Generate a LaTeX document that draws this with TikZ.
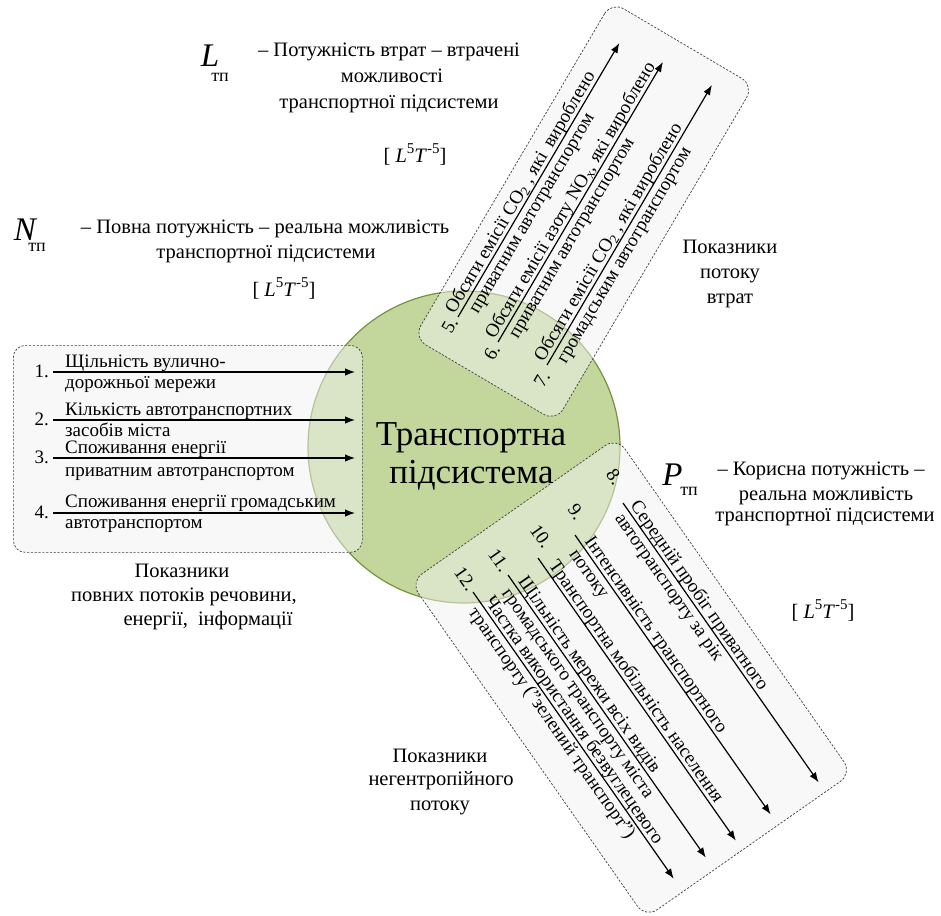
\documentclass[tikz,border=0pt]{standalone}
\usepackage{fontspec}
\IfFontExistsTF{LiberationSerif-Regular.ttf}{%
  \setmainfont{LiberationSerif}[Extension=.ttf, UprightFont=*-Regular, ItalicFont=*-Italic, BoldFont=*-Bold, BoldItalicFont=*-BoldItalic]}{%
  \setmainfont{Liberation Serif}}
\usetikzlibrary{arrows.meta}
\definecolor{circfill}{HTML}{C3D69B}
\definecolor{circdraw}{HTML}{76923C}
\definecolor{boxfill}{RGB}{242,242,242}
\newcommand{\myDimSup}[1]{\raisebox{0.42em}{\fontsize{15}{15}\selectfont #1}}
\newcommand{\myDimForm}{[\hspace{5pt}\textit{L}\myDimSup{5}\textit{T}\myDimSup{-5}]}
\begin{document}
\begin{tikzpicture}[x=1pt,y=1pt,
  box/.style={draw=black!75, line width=0.7pt, dash pattern=on 2.2pt off 1.6pt, fill=boxfill, fill opacity=0.51, rounded corners=14pt, inner sep=0pt},
  arr/.style={line width=1.2pt, -{Latex[length=10pt,width=7.5pt]}},
  itm/.style={font=\fontsize{19}{22}\selectfont, inner sep=0pt},
  lbl/.style={font=\fontsize{20.5}{25}\selectfont, inner sep=0pt, anchor=base},
  big/.style={font=\fontsize{33}{36}\selectfont\itshape, inner sep=0pt, anchor=base},
  subs/.style={font=\fontsize{18}{20}\selectfont, inner sep=0pt, anchor=base},
  ctr/.style={font=\fontsize{35}{38}\selectfont, inner sep=0pt, anchor=base},
]
\useasboundingbox (0,0) rectangle (941,-915);

% central circle
\node[circle, draw=circdraw, fill=circfill, line width=1.2pt, minimum size=312pt, inner sep=0pt] (sys) at (464,-447) {};

% boxes
\node[box, minimum width=390pt, minimum height=165pt, rotate=59.5] (lossbox) at (583.7,-211.6) {};
\node[box, minimum width=410pt, minimum height=252pt, rotate=-55] (negbox) at (631.2,-677.6) {};
\node[box, rounded corners=12pt, minimum width=349pt, minimum height=207pt, anchor=north west] (inbox) at (13,-345) {};

% centre text
\node[ctr] (ct1) at (471,-445) {Транспортна};
\node[ctr] (ct2) at (471.5,-483) {підсистема};

% left box items
\coordinate (s1) at (53,-372); \coordinate (e1) at (355,-372);
\draw[arr] (s1) -- (e1);
\node[itm, anchor=base east] (n1) at (49,-377) {1.};
\node[itm, anchor=base west] (t1a) at (65,-367) {Щільність вулично-};
\node[itm, anchor=base west] (t1b) at (65,-388) {дорожньої мережи};

\coordinate (s2) at (53,-420); \coordinate (e2) at (355,-420);
\draw[arr] (s2) -- (e2);
\node[itm, anchor=base east] (n2) at (49,-425) {2.};
\node[itm, anchor=base west] (t2a) at (65,-415) {Кількість автотранспортних};
\node[itm, anchor=base west] (t2b) at (65,-436) {засобів міста};

\coordinate (s3) at (53,-458); \coordinate (e3) at (355,-458);
\draw[arr] (s3) -- (e3);
\node[itm, anchor=base east] (n3) at (49,-463) {3.};
\node[itm, anchor=base west] (t3a) at (65,-453) {Споживання енергії};
\node[itm, anchor=base west] (t3b) at (65,-476) {приватним автотранспортом};

\coordinate (s4) at (53,-513); \coordinate (e4) at (355,-513);
\draw[arr] (s4) -- (e4);
\node[itm, anchor=base east] (n4) at (49,-518) {4.};
\node[itm, anchor=base west] (t4a) at (65,-507) {Споживання енергії громадським};
\node[itm, anchor=base west] (t4b) at (65,-528) {автотранспортом};

% top (loss) box items
\begin{scope}[shift={(458,-317)}, rotate=59.5, transform shape]
  \coordinate (s5) at (0,0); \coordinate (e5) at (318,0);
  \draw[arr] (s5) -- (e5);
  \node[itm] (n5) at (-11,3) {5.};
  \node[itm, anchor=base west] (t5a) at (0,4) {Обсяги емісії CO\textsubscript{2} , які\hspace{4pt} вироблено};
  \node[itm, anchor=base west] (t5b) at (12,-16) {приватним автотранспортом};
\end{scope}
\begin{scope}[shift={(498,-342)}, rotate=59.5, transform shape]
  \coordinate (s6) at (0,0); \coordinate (e6) at (325,0);
  \draw[arr] (s6) -- (e6);
  \node[itm] (n6) at (-12,0) {6.};
  \node[itm, anchor=base west] (t6a) at (0,4) {Обсяги емісії азоту NO\textsubscript{x}, які вироблено};
  \node[itm, anchor=base west] (t6b) at (12,-16) {приватним автотранспортом};
\end{scope}
\begin{scope}[shift={(547,-365)}, rotate=59.5, transform shape]
  \coordinate (s7) at (0,0); \coordinate (e7) at (325,0);
  \draw[arr] (s7) -- (e7);
  \node[itm] (n7) at (-15,-3) {7.};
  \node[itm, anchor=base west] (t7a) at (0,4) {Обсяги емісії CO\textsubscript{2} , які вироблено};
  \node[itm, anchor=base west] (t7b) at (10,-16) {громадським автотранспортом};
\end{scope}

% bottom (negentropy) box items
\begin{scope}[shift={(623,-503)}, rotate=-55, transform shape]
  \coordinate (s8) at (0,0); \coordinate (e8) at (341,0);
  \draw[arr] (s8) -- (e8);
  \node[itm] (n8) at (-26,8) {8.};
  \node[itm, anchor=base west] (t8a) at (6,4) {Середній пробіг приватного};
  \node[itm, anchor=base west] (t8b) at (8,-16) {автотранспорту за рік};
\end{scope}
\begin{scope}[shift={(575,-535)}, rotate=-55, transform shape]
  \coordinate (s9) at (0,0); \coordinate (e9) at (341,0);
  \draw[arr] (s9) -- (e9);
  \node[itm] (n9) at (-18,14) {9.};
  \node[itm, anchor=base west] (t9a) at (10,4) {Інтенсивність транспортного};
  \node[itm, anchor=base west] (t9b) at (12,-16) {потоку};
\end{scope}
\begin{scope}[shift={(538,-558)}, rotate=-55, transform shape]
  \coordinate (s10) at (0,0); \coordinate (e10) at (345,0);
  \draw[arr] (s10) -- (e10);
  \node[itm] (n10) at (-16,15) {10.};
  \node[itm, anchor=base west] (t10a) at (12,4) {Транспортна мобільність населення};
\end{scope}
\begin{scope}[shift={(508,-575)}, rotate=-55, transform shape]
  \coordinate (s11) at (0,0); \coordinate (e11) at (345,0);
  \draw[arr] (s11) -- (e11);
  \node[itm] (n11) at (-17,1) {11.};
  \node[itm, anchor=base west] (t11a) at (11,4) {Щільність мережи всіх видів};
  \node[itm, anchor=base west] (t11b) at (11,-16) {громадського транспорту міста};
\end{scope}
\begin{scope}[shift={(473,-592)}, rotate=-55, transform shape]
  \coordinate (s12) at (0,0); \coordinate (e12) at (350,0);
  \draw[arr] (s12) -- (e12);
  \node[itm] (n12) at (-15,1) {12.};
  \node[itm, anchor=base west] (t12a) at (14,4) {Частка використання безвуглецевого};
  \node[itm, anchor=base west] (t12b) at (14,-16) {транспорту ("зелений транспорт")};
\end{scope}

% L description
\node[big] (Lsym) at (210,-66.7) {L};
\node[subs] (Lsub) at (220,-81.7) {тп};
\node[lbl] (Ld1) at (389,-56.7) {– Потужність втрат – втрачені};
\node[lbl] (Ld2) at (392,-82.7) {можливості};
\node[lbl] (Ld3) at (389,-108.3) {транспортної підсистеми};
\node[lbl] (Ldim) at (415,-162) {\myDimForm};

% N description
\node[big] (Nsym) at (25,-240) {N};
\node[subs] (Nsub) at (37,-251.7) {тп};
\node[lbl] (Nd1) at (265,-233.3) {– Повна потужність – реальна можливість};
\node[lbl] (Nd2) at (266,-258.3) {транспортної підсистеми};
\node[lbl] (Ndim) at (284,-296) {\myDimForm};

% P description
\node[big] (Psym) at (672.5,-485) {P};
\node[subs] (Psub) at (689,-495) {тп};
\node[lbl] (Pd1) at (821,-475) {– Корисна потужність –};
\node[lbl] (Pd2) at (826,-500) {реальна можливість};
\node[lbl] (Pd3) at (825,-521.7) {транспортної підсистеми};
\node[lbl] (Pdim) at (823,-618) {\myDimForm};

% group labels
\node[lbl] (g1a) at (182,-577) {Показники};
\node[lbl] (g1b) at (184,-601) {повних потоків речовини,};
\node[lbl] (g1c) at (208,-625) {енергії,\hspace{5pt} інформації};

\node[lbl] (g2a) at (730,-253) {Показники};
\node[lbl] (g2b) at (730,-278) {потоку};
\node[lbl] (g2c) at (730,-303) {втрат};

\node[lbl] (g3a) at (440,-762) {Показники};
\node[lbl] (g3b) at (441,-785) {негентропійного};
\node[lbl] (g3c) at (440,-810) {потоку};
\end{tikzpicture}
\end{document}
